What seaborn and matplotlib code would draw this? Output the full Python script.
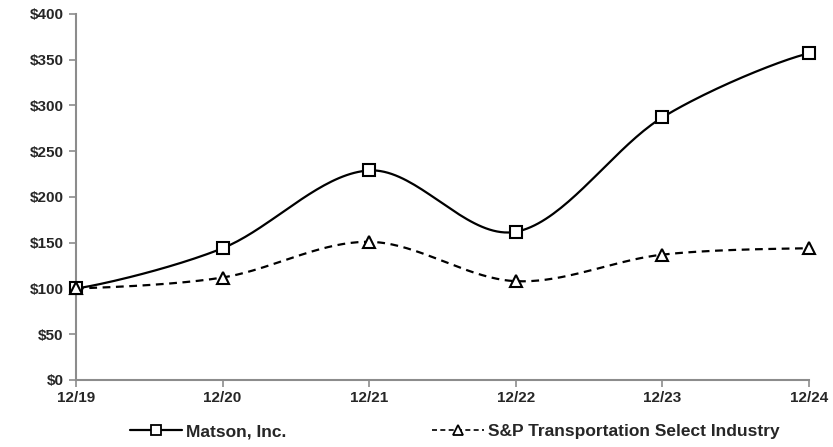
import numpy as np
import pandas as pd
import matplotlib
matplotlib.use("Agg")
import matplotlib.pyplot as plt
import seaborn as sns
from matplotlib.lines import Line2D

periods = ["12/19", "12/20", "12/21", "12/22", "12/23", "12/24"]
matson = [100, 144, 229, 162, 287, 357]
sp_transport = [100, 112, 151, 108, 137, 144]
y_ticks = [0, 50, 100, 150, 200, 250, 300, 350, 400]

sns.set_style("white")
plt.rcParams["font.family"] = ["Liberation Sans", "DejaVu Sans"]
plt.rcParams["font.weight"] = "bold"


def smooth(xs, ys, n=40):
    # Bezier smoothing similar to spreadsheet "smoothed line"
    xs = np.asarray(xs, float)
    ys = np.asarray(ys, float)
    px = np.concatenate([[2 * xs[0] - xs[1]], xs, [2 * xs[-1] - xs[-2]]])
    py = np.concatenate([[ys[0]], ys, [ys[-1]]])
    outx, outy = [], []
    t = 1 / 6
    for i in range(1, len(px) - 2):
        p0 = np.array([px[i], py[i]])
        p3 = np.array([px[i + 1], py[i + 1]])
        p1 = p0 + t * (np.array([px[i + 1], py[i + 1]]) - np.array([px[i - 1], py[i - 1]]))
        p2 = p3 - t * (np.array([px[i + 2], py[i + 2]]) - np.array([px[i], py[i]]))
        if i == 1:
            p1 = p0 + (p1 - p0) * 0.5
        if i == len(px) - 3:
            p2 = p3 + (p2 - p3) * 0.5
        s = np.linspace(0, 1, n)[:, None]
        pts = ((1 - s) ** 3) * p0 + 3 * ((1 - s) ** 2) * s * p1 + 3 * (1 - s) * s ** 2 * p2 + s ** 3 * p3
        outx.extend(pts[:, 0])
        outy.extend(pts[:, 1])
    return np.array(outx), np.array(outy)


x = np.arange(len(periods))
fig = plt.figure(figsize=(8.33, 4.47), dpi=100)
ax = fig.add_axes([0.0912, 0.1499, 0.8800, 0.8188])

mx, my = smooth(x, matson)
sx, sy = smooth(x, sp_transport)
sns.lineplot(x=mx, y=my, ax=ax, color="black", linewidth=1.6, sort=False)
sns.lineplot(x=sx, y=sy, ax=ax, color="black", linewidth=1.6, linestyle=(0, (3.5, 2.5)), sort=False)
ax.plot(x, matson, linestyle="none", marker="s", markersize=9, markerfacecolor="white",
        markeredgecolor="black", markeredgewidth=1.5, zorder=5, clip_on=False)
ax.plot(x, sp_transport, linestyle="none", marker="^", markersize=9, markerfacecolor="white",
        markeredgecolor="black", markeredgewidth=1.5, zorder=5, clip_on=False)

ax.set_xlim(0, len(periods) - 1)
ax.set_ylim(0, 400)
ax.set_xticks(x)
ax.set_xticklabels(periods, fontsize=11, fontweight="bold")
ax.set_yticks(y_ticks)
ax.set_yticklabels([f"${v}" for v in y_ticks], fontsize=11, fontweight="bold")
ax.set_xlabel("")
ax.set_ylabel("")

for side in ["top", "right"]:
    ax.spines[side].set_visible(False)
for side in ["left", "bottom"]:
    ax.spines[side].set_color("#8c8c8c")
    ax.spines[side].set_linewidth(1.5)
ax.tick_params(axis="both", which="both", direction="out", length=5, width=1.2,
               color="#8c8c8c", pad=4, left=True, bottom=True)
ax.tick_params(axis="x", pad=3)

handles = [
    Line2D([], [], color="black", linewidth=1.6, marker="s", markersize=7,
           markerfacecolor="white", markeredgecolor="black", markeredgewidth=1.3),
    Line2D([], [], color="black", linewidth=1.2, linestyle=(0, (3, 2)), marker="^", markersize=7,
           markerfacecolor="white", markeredgecolor="black", markeredgewidth=1.3),
]
fig.legend(handles, ["Matson, Inc.", "S&P Transportation Select Industry"],
           loc="center", bbox_to_anchor=(0.546, 0.034), ncol=2, frameon=False,
           handlelength=3.0, handletextpad=0.2, columnspacing=8.4,
           prop={"size": 12.5, "weight": "bold"})

fig.savefig("out.png", dpi=100)
